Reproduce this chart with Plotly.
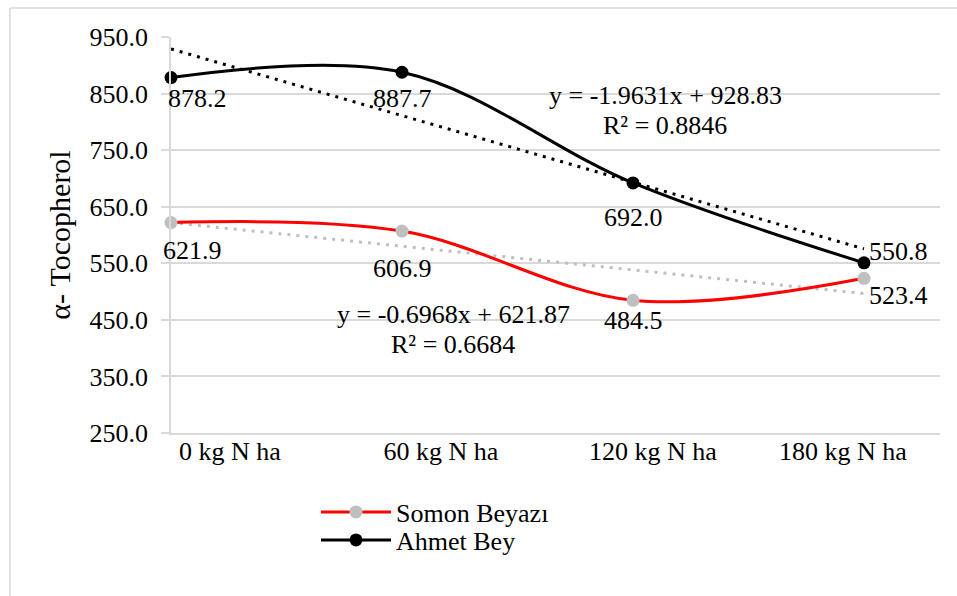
import plotly.graph_objects as go

categories = ["0 kg N ha", "60 kg N ha", "120 kg N ha", "180 kg N ha"]
n_doses = [0, 60, 120, 180]
somon = [621.9, 606.9, 484.5, 523.4]
ahmet = [878.2, 887.7, 692.0, 550.8]
somon_trend = {"slope": -0.6968, "intercept": 621.87, "r2": 0.6684}
ahmet_trend = {"slope": -1.9631, "intercept": 928.83, "r2": 0.8846}
y_ticks = [250, 350, 450, 550, 650, 750, 850, 950]

FONT = "Liberation Serif"
FS = 26
xi = list(range(len(categories)))

# pixel geometry of plot area
PL, PR, PT, PB = 171, 940, 37, 433
PW, PH = PR - PL, PB - PT

def px(x):
    return (x - PL) / PW

def py(y):
    return (PB - y) / PH

fig = go.Figure()

for tr, col in [(somon_trend, "#BFBFBF"), (ahmet_trend, "#000000")]:
    xs = [xi[0], xi[-1]]
    ys = [tr["slope"] * n_doses[0] + tr["intercept"], tr["slope"] * n_doses[-1] + tr["intercept"]]
    fig.add_trace(go.Scatter(x=xs, y=ys, mode="lines", showlegend=False, cliponaxis=False,
                             line=dict(color=col, width=3, dash="3px,6px"), hoverinfo="skip"))

fig.add_trace(go.Scatter(x=xi, y=somon, name="Somon Beyazı", mode="lines+markers", legend="legend",
                         cliponaxis=False,
                         line=dict(color="#FF0000", width=3, shape="spline", smoothing=1),
                         marker=dict(color="#BFBFBF", size=13)))
fig.add_trace(go.Scatter(x=xi, y=ahmet, name="Ahmet Bey", mode="lines+markers", legend="legend2",
                         cliponaxis=False,
                         line=dict(color="#000000", width=3, shape="spline", smoothing=1),
                         marker=dict(color="#000000", size=13)))

ahmet_off = [(26, -21), (0, -26), (0, -35), (34, 11)]
somon_off = [(21, -28), (0, -37), (0, -20), (34, -17)]
annotations = []
for vals, offs in [(ahmet, ahmet_off), (somon, somon_off)]:
    for x, v, (dx, dy) in zip(xi, vals, offs):
        annotations.append(dict(x=x, y=v, xref="x", yref="y", text=f"{v:.1f}", showarrow=False,
                                xshift=dx, yshift=dy, xanchor="center", yanchor="middle",
                                font=dict(family=FONT, size=FS, color="#000")))

def eq_text(tr):
    return f"y = {tr['slope']:.4f}x + {tr['intercept']:.2f}"

for tr, (ex, ey) in [(ahmet_trend, (665, 95)), (somon_trend, (453, 314))]:
    annotations.append(dict(x=px(ex), y=py(ey), xref="paper", yref="paper", text=eq_text(tr),
                            showarrow=False, xanchor="center", yanchor="middle",
                            font=dict(family=FONT, size=FS, color="#000")))
    annotations.append(dict(x=px(ex), y=py(ey + 30), xref="paper", yref="paper",
                            text=f"R² = {tr['r2']:.4f}", showarrow=False, xanchor="center",
                            yanchor="middle", font=dict(family=FONT, size=FS, color="#000")))

shapes = [
    dict(type="line", xref="paper", yref="paper", x0=px(10), x1=px(1000), y0=py(8), y1=py(8),
         line=dict(color="#D9D9D9", width=1.5)),
    dict(type="line", xref="paper", yref="paper", x0=px(10), x1=px(10), y0=py(8), y1=py(640),
         line=dict(color="#D9D9D9", width=1.5)),
]

tick_pos = [(p - PL) / 231 for p in (230, 441, 653, 843)]

leg_common = dict(xanchor="left", yanchor="middle", font=dict(family=FONT, size=FS),
                  bgcolor="rgba(0,0,0,0)", itemwidth=70)

fig.update_layout(
    width=957, height=596,
    margin=dict(l=PL, r=957 - PR, t=PT, b=596 - PB),
    paper_bgcolor="white", plot_bgcolor="white",
    font=dict(family=FONT, size=FS, color="#000"),
    xaxis=dict(range=[0, PW / 231], tickvals=tick_pos, ticktext=categories, showgrid=False,
               zeroline=False, showline=True, linecolor="#D9D9D9", linewidth=1.5, ticks="",
               ticklabelstandoff=-6, fixedrange=True),
    yaxis=dict(range=[250, 950], tickvals=y_ticks, ticktext=[f"{v:.1f}" for v in y_ticks],
               showgrid=True, gridcolor="#D9D9D9", gridwidth=1.5, zeroline=False,
               showline=True, linecolor="#D9D9D9", linewidth=1.5, ticks="outside", ticklen=8,
               tickcolor="#D9D9D9", tickwidth=1.5, ticklabelstandoff=8, fixedrange=True,
               title=dict(text="α- Tocopherol", standoff=10, font=dict(family=FONT, size=30))),
    legend=dict(x=px(316), y=py(512), **leg_common),
    legend2=dict(x=px(316), y=py(540), **leg_common),
    annotations=annotations,
    shapes=shapes,
    showlegend=True,
)

fig.write_html("out.html", config={"displayModeBar": False},
               post_script="document.body.style.margin='0';")
